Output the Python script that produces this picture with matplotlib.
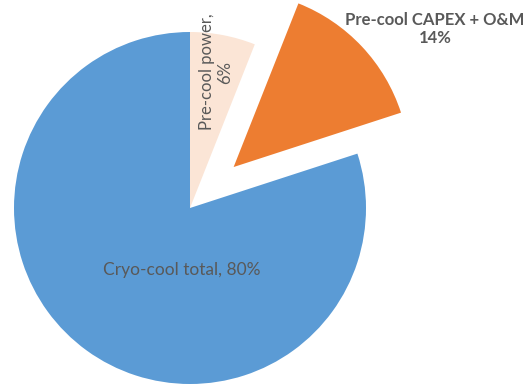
import matplotlib.pyplot as plt

labels = ['Pre-cool power', 'Pre-cool CAPEX + O&M', 'Cryo-cool total']
shares = [6, 14, 80]
colors = ['#FBE5D6', '#ED7D31', '#5B9BD5']

plt.rcParams['font.family'] = ['Lato', 'DejaVu Sans']

fig = plt.figure(figsize=(5.27, 3.85), dpi=100)
ax = fig.add_axes([0, 0, 1, 1])

# pie in pixel coordinates, clockwise from 12 o'clock
cx, cy, r = 190, 177, 176
explode = [0, 0.34 * r, 0]  # pie's explode offset is absolute, so scale by radius
ax.pie(shares, colors=colors, explode=explode, startangle=90, counterclock=False,
       center=(cx, cy), radius=r, frame=True)
ax.set_xlim(0, 527)
ax.set_ylim(0, 385)
ax.set_aspect('equal')
ax.axis('off')

txt = '#595959'
ax.text(216, 385 - 72, '{},\n{}%'.format(labels[0], shares[0]), rotation=90,
        ha='center', va='center', multialignment='center', fontsize=12, color=txt)
ax.text(435, 385 - 29, '{}\n{}%'.format(labels[1], shares[1]), ha='center', va='center',
        multialignment='center', fontsize=12, fontweight='bold', color=txt,
        linespacing=1.2)
ax.text(182, 385 - 270, '{}, {}%'.format(labels[2], shares[2]), ha='center', va='center',
        fontsize=12.5, color=txt)

fig.savefig('out.png', dpi=100)
